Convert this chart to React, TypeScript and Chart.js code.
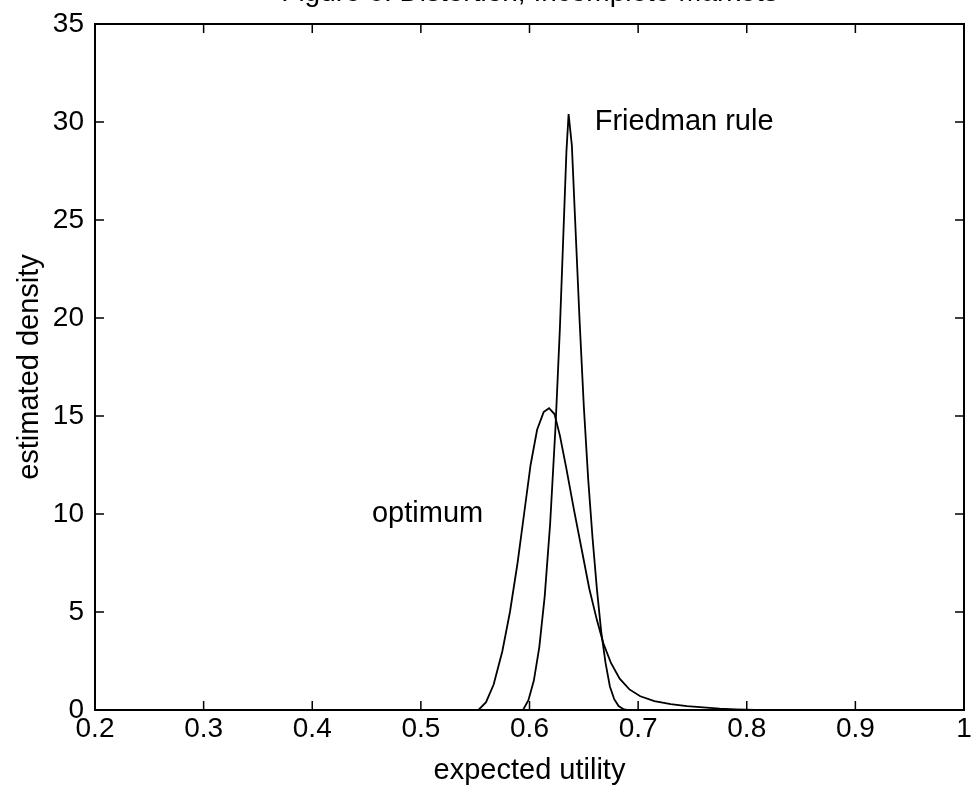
import React, { useEffect, useRef } from "react";
import { Chart, registerables } from "chart.js";

Chart.register(...registerables);

const chartTitle = "Figure 6: Distortion, Incomplete Markets";
const xAxisTitle = "expected utility";
const yAxisTitle = "estimated density";

const xTicks = [0.2, 0.3, 0.4, 0.5, 0.6, 0.7, 0.8, 0.9, 1.0];
const xTickLabels = ["0.2", "0.3", "0.4", "0.5", "0.6", "0.7", "0.8", "0.9", "1"];
const yTicks = [0, 5, 10, 15, 20, 25, 30, 35];
const yTickLabels = ["0", "5", "10", "15", "20", "25", "30", "35"];

const friedmanName = "Friedman rule";
const friedmanLabelX = 0.66;
const friedmanLabelY = 30;
const optimumName = "optimum";
const optimumLabelX = 0.455;
const optimumLabelY = 10;

const friedmanX = [0.594, 0.599, 0.604, 0.609, 0.614, 0.619, 0.624, 0.628, 0.631, 0.634, 0.636, 0.639, 0.642, 0.646, 0.65, 0.654, 0.658, 0.662, 0.666, 0.67, 0.674, 0.678, 0.682, 0.687, 0.69];
const friedmanY = [0, 0.5, 1.5, 3.2, 5.8, 9.5, 14.5, 19.5, 24, 28.5, 30.4, 28.8, 25, 20, 15.5, 11.8, 8.8, 6.2, 4.0, 2.4, 1.2, 0.55, 0.2, 0.03, 0];

const optimumX = [0.553, 0.56, 0.567, 0.575, 0.582, 0.589, 0.595, 0.601, 0.607, 0.613, 0.618, 0.623, 0.628, 0.634, 0.641, 0.648, 0.655, 0.662, 0.668, 0.675, 0.683, 0.692, 0.702, 0.715, 0.73, 0.745, 0.76, 0.775, 0.79, 0.808];
const optimumY = [0, 0.4, 1.3, 3, 5, 7.5, 10, 12.5, 14.3, 15.2, 15.4, 15.1, 14.0, 12.3, 10.2, 8.2, 6.2, 4.6, 3.4, 2.4, 1.6, 1.05, 0.7, 0.45, 0.3, 0.2, 0.13, 0.07, 0.03, 0];

const FONT = "'Liberation Sans', Arial, Helvetica, sans-serif";

const matlabFrame = {
  id: "matlabFrame",
  afterDatasetsDraw(chart: any) {
    const { ctx, chartArea, scales } = chart;
    const { left, right, top, bottom } = chartArea;
    const xs = scales.x;
    const ys = scales.y;
    ctx.save();
    ctx.strokeStyle = "#000";
    ctx.lineWidth = 2;
    ctx.strokeRect(left, top, right - left, bottom - top);
    ctx.lineWidth = 1.5;
    const tl = 9;
    ctx.beginPath();
    xTicks.forEach((v) => {
      const px = xs.getPixelForValue(v);
      ctx.moveTo(px, bottom);
      ctx.lineTo(px, bottom - tl);
      ctx.moveTo(px, top);
      ctx.lineTo(px, top + tl);
    });
    yTicks.forEach((v) => {
      const py = ys.getPixelForValue(v);
      ctx.moveTo(left, py);
      ctx.lineTo(left + tl, py);
      ctx.moveTo(right, py);
      ctx.lineTo(right - tl, py);
    });
    ctx.stroke();

    ctx.fillStyle = "#000";
    ctx.font = `29px ${FONT}`;
    ctx.textAlign = "left";
    ctx.textBaseline = "middle";
    ctx.fillText(friedmanName, xs.getPixelForValue(friedmanLabelX), ys.getPixelForValue(friedmanLabelY));
    ctx.fillText(optimumName, xs.getPixelForValue(optimumLabelX), ys.getPixelForValue(optimumLabelY));

    ctx.textAlign = "center";
    ctx.textBaseline = "alphabetic";
    ctx.font = `28px ${FONT}`;
    ctx.fillText(chartTitle, (left + right) / 2, 1);
    ctx.restore();
  },
};

export default function App() {
  const ref = useRef<HTMLCanvasElement | null>(null);
  useEffect(() => {
    if (!ref.current) return;
    const chart = new Chart(ref.current, {
      type: "line",
      data: {
        datasets: [
          {
            label: friedmanName,
            data: friedmanX.map((x, i) => ({ x, y: friedmanY[i] })),
            borderColor: "#000",
            borderWidth: 1.8,
            pointRadius: 0,
            tension: 0,
          },
          {
            label: optimumName,
            data: optimumX.map((x, i) => ({ x, y: optimumY[i] })),
            borderColor: "#000",
            borderWidth: 1.8,
            pointRadius: 0,
            tension: 0,
          },
        ],
      },
      options: {
        responsive: false,
        animation: false,
        devicePixelRatio: 1,
        layout: { padding: { left: 0, top: 24, right: 8, bottom: 0 } },
        plugins: { legend: { display: false }, tooltip: { enabled: false }, title: { display: false } },
        scales: {
          x: {
            type: "linear",
            min: 0.2,
            max: 1,
            grid: { display: false, drawTicks: false },
            border: { display: false },
            afterBuildTicks: (s: any) => {
              s.ticks = xTicks.map((v) => ({ value: v }));
            },
            afterFit: (s: any) => {
              s.height = 88;
              s.paddingLeft = 0;
              s.paddingRight = 0;
            },
            ticks: {
              color: "#000",
              font: { family: FONT, size: 28 },
              padding: 2,
              maxRotation: 0,
              autoSkip: false,
              callback: (_v: any, i: number) => xTickLabels[i],
            },
            title: {
              display: true,
              text: xAxisTitle,
              color: "#000",
              font: { family: FONT, size: 29 },
              padding: { top: 0, bottom: 10 },
            },
          },
          y: {
            type: "linear",
            min: 0,
            max: 35,
            grid: { display: false, drawTicks: false },
            border: { display: false },
            afterBuildTicks: (s: any) => {
              s.ticks = yTicks.map((v) => ({ value: v }));
            },
            afterFit: (s: any) => {
              s.width = 95;
              s.paddingTop = 0;
              s.paddingBottom = 0;
            },
            ticks: {
              color: "#000",
              font: { family: FONT, size: 28 },
              padding: 11,
              autoSkip: false,
              callback: (_v: any, i: number) => yTickLabels[i],
            },
            title: {
              display: true,
              text: yAxisTitle,
              color: "#000",
              font: { family: FONT, size: 29 },
              padding: { top: 13, bottom: 0 },
            },
          },
        },
      },
      plugins: [matlabFrame],
    });
    return () => chart.destroy();
  }, []);
  return (
    <canvas
      ref={ref}
      width={972}
      height={798}
      style={{ position: "absolute", left: 0, top: 0, width: 972, height: 798, background: "#fff" }}
    />
  );
}
